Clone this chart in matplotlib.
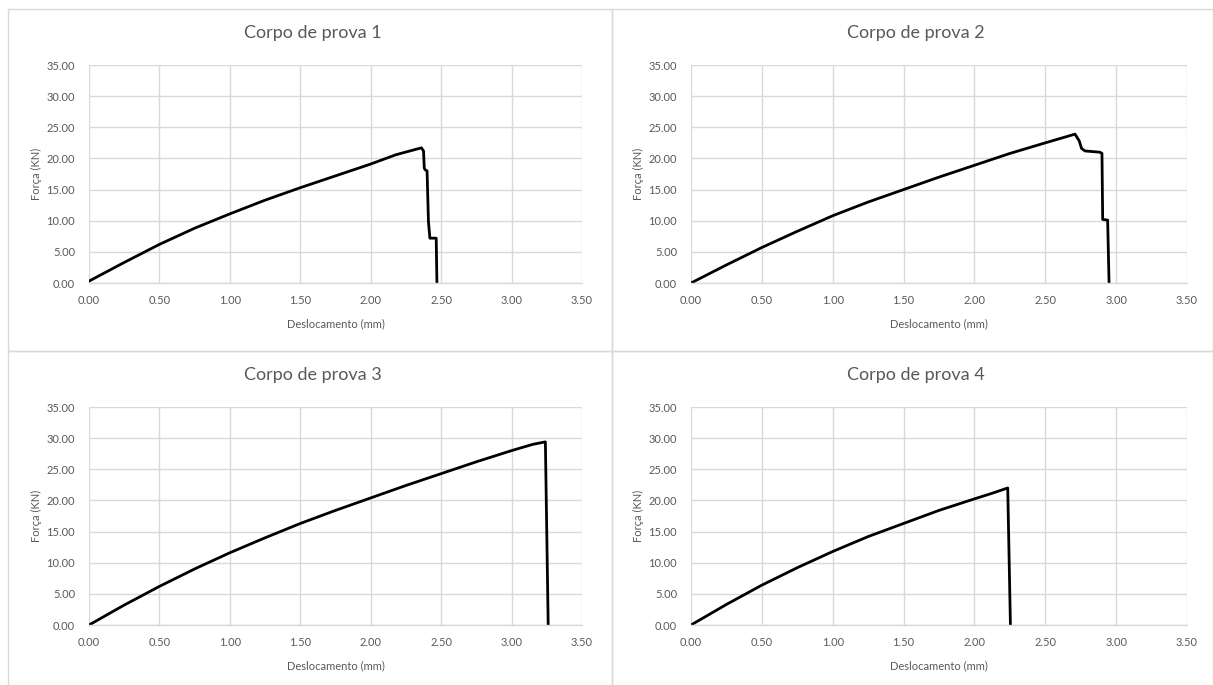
import matplotlib
matplotlib.use("Agg")
import matplotlib.pyplot as plt
from matplotlib.patches import Rectangle

plt.rcParams['font.family'] = ['Lato', 'DejaVu Sans']

titles = ["Corpo de prova 1", "Corpo de prova 2", "Corpo de prova 3", "Corpo de prova 4"]
xlabel = "Deslocamento (mm)"
ylabel = "Força (KN)"
xticks = [0.0, 0.5, 1.0, 1.5, 2.0, 2.5, 3.0, 3.5]
yticks = [0.0, 5.0, 10.0, 15.0, 20.0, 25.0, 30.0, 35.0]

cp1_x = [0, 0.25, 0.5, 0.75, 1.0, 1.25, 1.5, 1.75, 2.0, 2.18, 2.36, 2.375, 2.38, 2.385, 2.40, 2.41, 2.42, 2.465, 2.47]
cp1_y = [0.3, 3.3, 6.2, 8.8, 11.1, 13.3, 15.3, 17.2, 19.1, 20.6, 21.7, 21.2, 18.5, 18.2, 18.0, 9.8, 7.2, 7.2, 0]

cp2_x = [0, 0.25, 0.5, 0.75, 1.0, 1.25, 1.5, 1.75, 2.0, 2.25, 2.5, 2.71, 2.74, 2.756, 2.78, 2.886, 2.90, 2.905, 2.94, 2.95]
cp2_y = [0, 2.9, 5.7, 8.3, 10.8, 13.0, 15.0, 17.0, 18.9, 20.8, 22.5, 23.9, 22.8, 21.6, 21.2, 21.0, 20.8, 10.2, 10.1, 0]

cp3_x = [0, 0.25, 0.5, 0.75, 1.0, 1.25, 1.5, 1.75, 2.0, 2.25, 2.5, 2.75, 3.0, 3.15, 3.24, 3.26]
cp3_y = [0, 3.2, 6.2, 9.0, 11.6, 14.0, 16.3, 18.4, 20.4, 22.4, 24.3, 26.2, 28.0, 29.0, 29.4, 0]

cp4_x = [0, 0.25, 0.5, 0.75, 1.0, 1.25, 1.5, 1.75, 2.0, 2.125, 2.235, 2.254]
cp4_y = [0, 3.3, 6.4, 9.2, 11.8, 14.2, 16.3, 18.4, 20.25, 21.15, 22.0, 0]

series = [(cp1_x, cp1_y), (cp2_x, cp2_y), (cp3_x, cp3_y), (cp4_x, cp4_y)]

W, H = 1213, 685
fig = plt.figure(figsize=(W / 100, H / 100), dpi=100)
fig.patch.set_facecolor("white")

def fx(px):
    return px / W

def fy(py):
    return 1 - py / H

# panel borders (px): left, top, right, bottom
panels = [(8, 9, 612, 351), (612, 9, 1213, 351), (8, 351, 612, 690), (612, 351, 1213, 690)]
# plot areas (px): left, top, right, bottom
areas = [(89, 65, 582, 283), (691, 65, 1187, 283), (89, 407, 582, 625), (691, 407, 1187, 625)]

txt = "#595959"
grid = "#d9d9d9"

for (bl, bt, br, bb) in panels:
    fig.add_artist(Rectangle((fx(bl), fy(bb)), fx(br - bl), (bb - bt) / H,
                             transform=fig.transFigure, fill=False,
                             edgecolor="#d9d9d9", linewidth=1.0))

for i, ((l, t, r, b), (xs, ys)) in enumerate(zip(areas, series)):
    ax = fig.add_axes([fx(l), fy(b), fx(r - l), (b - t) / H])
    ax.plot(xs, ys, color="black", linewidth=2.0, solid_joinstyle="round")
    ax.set_xlim(0, 3.5)
    ax.set_ylim(0, 35)
    ax.set_xticks(xticks)
    ax.set_yticks(yticks)
    ax.set_xticklabels([f"{v:.2f}" for v in xticks])
    ax.set_yticklabels([f"{v:.2f}" for v in yticks])
    ax.tick_params(axis="both", length=0, labelsize=8, labelcolor=txt)
    ax.tick_params(axis="x", pad=9)
    ax.tick_params(axis="y", pad=10)
    ax.grid(True, color=grid, linewidth=1.0)
    ax.set_axisbelow(True)
    for s in ["top", "right", "left"]:
        ax.spines[s].set_visible(False)
    ax.spines["bottom"].set_color(grid)
    ax.spines["bottom"].set_linewidth(1.0)
    cx = (l + r) / 2
    fig.text(fx((panels[i][0] + panels[i][2]) / 2 + 3), fy(t - 32), titles[i],
             ha="center", va="center", fontsize=13, color=txt)
    fig.text(fx(cx), fy(b + 41), xlabel, ha="center", va="center", fontsize=8, color=txt)
    fig.text(fx(l - 53), fy((t + b) / 2), ylabel, ha="center", va="center",
             rotation=90, fontsize=8, color=txt)

fig.savefig("out.png", dpi=100, facecolor="white")
